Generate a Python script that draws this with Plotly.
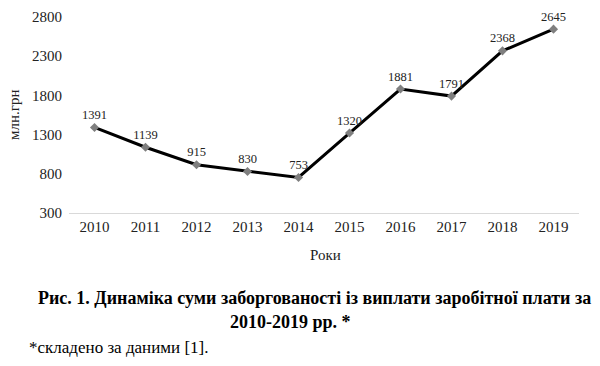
import plotly.graph_objects as go

years = ["2010", "2011", "2012", "2013", "2014", "2015", "2016", "2017", "2018", "2019"]
values = [1391, 1139, 915, 830, 753, 1320, 1881, 1791, 2368, 2645]
y_ticks = [300, 800, 1300, 1800, 2300, 2800]

serif = "Liberation Serif"

W, H = 600, 366
ML, MR, MT, MB = 69, 21, 17, 153
PW = W - ML - MR
PH = H - MT - MB


def px(x):
    return (x - ML) / PW


def py(y):
    return (H - MB - y) / PH


def note(text, x, y, size, color="black", xanchor="center", angle=0):
    return dict(text=text, x=px(x), y=py(y), xref="paper", yref="paper", showarrow=False,
                xanchor=xanchor, yanchor="middle", textangle=angle,
                font=dict(size=size, family=serif, color=color))


fig = go.Figure()
fig.add_trace(go.Scatter(
    x=years, y=values,
    mode="lines+markers+text",
    line=dict(color="black", width=3),
    marker=dict(symbol="diamond", size=7, color="#7f7f7f"),
    text=[str(v) for v in values],
    textposition="top center",
    textfont=dict(family=serif, size=12.5, color="#222"),
    cliponaxis=False,
    showlegend=False,
    hoverinfo="skip",
))

fig.update_layout(
    width=W, height=H,
    margin=dict(l=ML, r=MR, t=MT, b=MB, autoexpand=False),
    paper_bgcolor="white", plot_bgcolor="white",
    font=dict(family=serif, size=15, color="#222"),
    xaxis=dict(
        type="category", range=[-0.5, 9.5], showgrid=False, showline=True,
        linecolor="#d9d9d9", linewidth=1,
        ticks="", tickfont=dict(size=15, family=serif), zeroline=False, automargin=False,
    ),
    yaxis=dict(
        range=[300, 2800], tickvals=y_ticks, showgrid=False, showline=False, zeroline=False,
        ticks="", tickfont=dict(size=15, family=serif), automargin=False,
        ticklabelstandoff=6,
    ),
    annotations=[
        note("млн.грн", 14, 115, 15, "#222", angle=-90),
        note("Роки", 325, 255, 15, "#222"),
        note("<b>Рис. 1. Динаміка суми заборгованості із виплати заробітної плати за</b>", 314, 298, 18),
        note("<b>2010-2019 рр. *</b>", 290, 322, 18),
        note("*складено за даними [1].", 27, 347, 17, xanchor="left"),
    ],
)

fig.write_html("out.html", config={"displayModeBar": False},
               post_script="document.body.style.margin='0';")
